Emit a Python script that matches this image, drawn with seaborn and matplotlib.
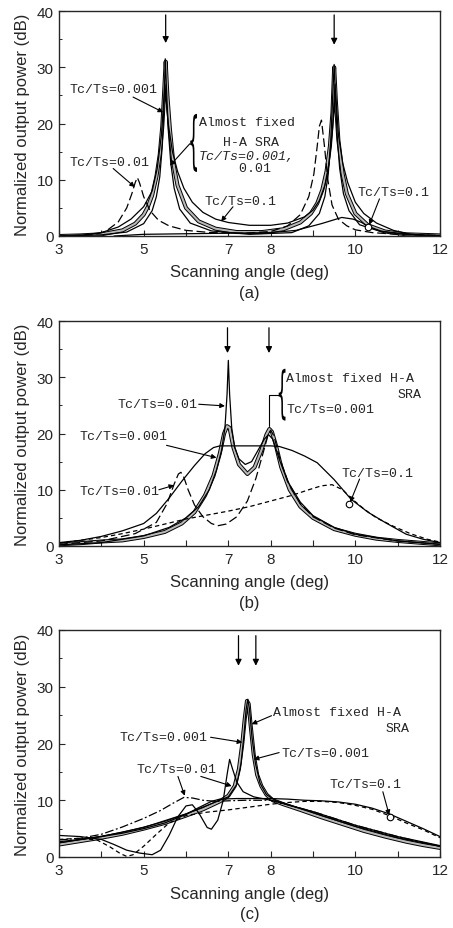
import matplotlib
matplotlib.use("Agg")
import matplotlib.pyplot as plt
import matplotlib.transforms as mtransforms
from matplotlib.textpath import TextPath
from matplotlib.patches import PathPatch
from matplotlib.font_manager import FontProperties
import seaborn as sns

sns.set_style("ticks")
plt.rcParams["font.family"] = ["Liberation Sans", "DejaVu Sans"]
MONO = ["Liberation Mono", "DejaVu Sans Mono"]

# ---------------- panel (a) ----------------
a_x_fixed = [3.0, 3.5, 4.0, 4.5, 4.8, 5.0, 5.1, 5.2, 5.3, 5.38, 5.44, 5.48, 5.52, 5.56, 5.62, 5.7, 5.8, 6.0, 6.3, 6.7,
             7.2, 7.8, 8.3, 8.7, 8.95, 9.1, 9.22, 9.32, 9.4, 9.46, 9.5, 9.54, 9.6, 9.7, 9.8, 10.0, 10.3, 10.7, 11.2, 12.0]
a_y_fixed = [0.0, 0.1, 0.3, 1.0, 2.2, 3.8, 5.2, 7.2, 10.5, 14.5, 19.5, 25.0, 31.0, 25.0, 19.0, 13.0, 9.0, 5.0, 2.6, 1.3,
             0.7, 0.7, 1.2, 2.4, 4.0, 5.8, 8.2, 11.5, 16.0, 22.0, 30.0, 24.0, 17.0, 11.0, 7.5, 4.0, 1.9, 0.8, 0.3, 0.1]

a_x_001 = [3.0, 4.0, 4.6, 5.0, 5.2, 5.3, 5.38, 5.44, 5.48, 5.51, 5.54, 5.58, 5.64, 5.72, 5.85, 6.1, 6.6, 7.5,
           8.5, 8.9, 9.15, 9.28, 9.36, 9.42, 9.46, 9.5, 9.53, 9.57, 9.63, 9.72, 9.85, 10.1, 10.6, 11.5, 12.0]
a_y_001 = [0.0, 0.2, 0.7, 2.2, 4.5, 7.0, 10.5, 16.0, 23.0, 31.5, 26.0, 19.0, 13.0, 8.5, 4.8, 2.3, 0.9, 0.3,
           0.6, 1.8, 4.0, 7.0, 11.0, 17.0, 24.0, 30.5, 25.0, 18.0, 12.0, 7.5, 4.5, 2.0, 0.8, 0.2, 0.1]

a_x_01 = [3.0, 3.8, 4.1, 4.4, 4.6, 4.72, 4.8, 4.85, 4.9, 5.0, 5.15, 5.35, 5.6, 6.0, 6.6, 7.4, 8.0,
          8.4, 8.7, 8.9, 9.02, 9.1, 9.15, 9.2, 9.27, 9.35, 9.45, 9.6, 9.8, 10.0, 10.4, 11.0, 12.0]
a_y_01 = [0.0, 0.2, 0.8, 2.5, 5.0, 7.5, 9.5, 10.4, 9.5, 7.0, 4.5, 2.8, 1.8, 1.0, 0.6, 0.5, 0.8,
          1.8, 3.8, 7.0, 11.0, 16.0, 19.5, 20.6, 16.0, 10.0, 5.5, 3.0, 1.8, 1.1, 0.6, 0.3, 0.1]

a_x_1 = [3.0, 3.6, 4.0, 4.4, 4.7, 5.0, 5.2, 5.32, 5.42, 5.5, 5.58, 5.68, 5.8, 5.95, 6.15, 6.4, 6.7, 7.0, 7.5,
         8.0, 8.4, 8.8, 9.0, 9.15, 9.28, 9.38, 9.46, 9.52, 9.6, 9.7, 9.82, 10.0, 10.2, 10.5, 10.9, 11.3, 12.0]
a_y_1 = [0.0, 0.2, 0.6, 1.6, 3.0, 5.2, 8.0, 12.0, 18.0, 27.0, 20.0, 15.0, 11.5, 8.5, 6.0, 4.2, 3.0, 2.4, 1.9,
         1.9, 2.3, 3.4, 4.6, 6.3, 9.0, 13.0, 19.0, 27.0, 18.0, 13.0, 9.5, 6.0, 4.0, 2.3, 1.0, 0.3, 0.0]

a_x_1b = [4.3, 5.0, 6.0, 7.0, 8.0, 8.6, 9.2, 9.68, 9.95, 10.15, 10.3, 10.6, 11.0, 11.6, 12.0]
a_y_1b = [0.0, 0.3, 0.4, 0.5, 0.6, 1.0, 2.2, 3.3, 3.0, 2.4, 1.7, 0.9, 0.4, 0.1, 0.0]

# ---------------- panel (b) ----------------
b_x_fixed = [3.0, 3.5, 4.0, 4.5, 5.0, 5.5, 5.9, 6.2, 6.45, 6.65, 6.8, 6.9, 6.97, 7.03, 7.12, 7.25, 7.45, 7.62, 7.78,
             7.9, 7.97, 8.03, 8.12, 8.25, 8.45, 8.7, 9.0, 9.5, 10.0, 10.5, 11.0, 11.5, 12.0]
b_y_fixed = [0.3, 0.5, 0.8, 1.0, 1.6, 2.5, 4.0, 6.0, 9.0, 12.5, 16.5, 20.0, 21.3, 21.0, 17.5, 14.5, 12.8, 14.0, 17.0,
             19.8, 20.8, 20.3, 18.0, 14.0, 10.0, 7.0, 5.0, 3.0, 2.0, 1.3, 0.9, 0.6, 0.3]

b_x_01s = [3.0, 4.0, 5.0, 5.6, 6.0, 6.3, 6.55, 6.72, 6.84, 6.92, 6.97, 7.0, 7.03, 7.08, 7.15, 7.25, 7.4, 7.55,
           7.7, 7.85, 7.95, 8.05, 8.2, 8.4, 8.7, 9.0, 9.5, 10.0, 11.0, 12.0]
b_y_01s = [0.2, 0.6, 1.8, 3.3, 5.0, 7.0, 10.0, 13.5, 17.0, 21.0, 27.0, 33.0, 27.0, 21.0, 17.5, 15.5, 14.5, 15.0,
           17.0, 19.0, 19.8, 19.0, 15.5, 11.5, 7.8, 5.4, 3.3, 2.1, 0.9, 0.3]

b_x_bell = [3.0, 3.5, 4.0, 4.5, 5.0, 5.3, 5.6, 5.9, 6.2, 6.45, 6.65, 6.8, 7.2, 7.6, 8.0, 8.2, 8.5, 8.8, 9.1, 9.5,
            9.9, 10.3, 10.7, 11.2, 11.6, 12.0]
b_y_bell = [0.6, 1.0, 1.7, 2.7, 4.0, 5.8, 8.5, 11.5, 14.3, 16.4, 17.5, 17.8, 17.8, 17.8, 17.8, 17.7, 17.0, 16.0, 14.8,
            11.8, 8.3, 6.0, 4.2, 2.1, 1.2, 0.6]

b_x_01d = [3.0, 4.0, 4.8, 5.3, 5.55, 5.72, 5.82, 5.88, 5.95, 6.05, 6.2, 6.4, 6.6, 6.75, 6.95, 7.2, 7.45, 7.65,
           7.82, 7.93, 8.0, 8.08, 8.2, 8.4, 8.7, 9.0, 9.5, 10.0, 11.0, 12.0]
b_y_01d = [0.3, 0.9, 2.2, 4.2, 7.5, 11.0, 12.8, 13.1, 12.2, 10.0, 7.3, 5.2, 4.0, 3.6, 3.9, 5.2, 8.0, 12.0,
           16.5, 19.5, 20.6, 19.5, 16.0, 11.5, 7.5, 5.2, 3.2, 2.0, 0.9, 0.3]

b_x_1d = [3.0, 3.5, 4.0, 4.5, 5.0, 5.5, 6.0, 6.5, 7.0, 7.5, 8.0, 8.5, 8.9, 9.2, 9.45, 9.7, 9.9, 10.2, 10.5,
          10.9, 11.3, 11.7, 12.0]
b_y_1d = [0.5, 1.0, 1.5, 2.2, 3.0, 3.9, 4.8, 5.5, 6.2, 7.0, 8.0, 9.0, 10.0, 10.7, 10.9, 10.0, 8.5, 6.6, 5.0,
          3.5, 2.2, 1.2, 0.7]

# ---------------- panel (c) ----------------
c_x_fixed = [3.0, 3.5, 4.0, 4.5, 5.0, 5.5, 6.0, 6.4, 6.8, 7.0, 7.15, 7.25, 7.33, 7.39, 7.44, 7.48, 7.53, 7.6, 7.68,
             7.78, 7.9, 8.05, 8.3, 8.7, 9.2, 9.7, 10.2, 10.7, 11.2, 11.6, 12.0]
c_y_fixed = [2.2, 2.8, 3.4, 4.1, 5.0, 6.0, 7.3, 8.4, 9.8, 10.8, 12.5, 15.5, 20.0, 24.5, 27.5, 27.0, 23.0, 18.0, 14.5,
             12.5, 11.0, 10.0, 9.3, 8.3, 7.0, 5.8, 4.6, 3.6, 2.7, 2.1, 1.6]

c_x_001 = [3.0, 4.0, 5.0, 6.0, 6.6, 7.0, 7.2, 7.3, 7.37, 7.42, 7.46, 7.5, 7.56, 7.64, 7.75, 7.9, 8.1, 8.5,
           9.0, 10.0, 11.0, 12.0]
c_y_001 = [2.5, 3.6, 5.2, 7.6, 9.4, 10.6, 12.8, 16.5, 21.5, 26.0, 27.8, 26.0, 21.0, 16.5, 13.0, 11.0, 10.0, 9.0,
           7.8, 5.4, 3.4, 1.9]

c_x_1 = [3.0, 3.5, 4.0, 4.5, 5.0, 5.5, 6.0, 6.3, 6.6, 6.8, 7.2, 7.6, 8.0, 8.4, 8.8, 9.2, 9.6, 10.0, 10.4,
         10.8, 11.2, 11.6, 12.0]
c_y_1 = [2.7, 3.1, 3.6, 4.2, 5.0, 6.0, 7.5, 8.7, 9.8, 10.2, 10.3, 10.3, 10.3, 10.2, 10.0, 9.9, 9.7, 9.3, 8.6,
         7.6, 6.3, 5.0, 3.6]

c_x_1d = [3.0, 3.5, 3.9, 4.2, 4.45, 4.6, 4.75, 5.0, 5.3, 5.6, 6.0, 6.5, 7.0, 7.5, 8.0, 8.4, 8.8, 9.2, 9.6,
          10.0, 10.4, 10.8, 11.2, 11.6, 12.0]
c_y_1d = [3.1, 3.3, 3.0, 1.8, 0.6, 0.1, 0.4, 1.9, 4.0, 6.0, 7.3, 7.9, 8.3, 8.8, 9.3, 9.6, 9.8, 9.8, 9.6,
          9.1, 8.4, 7.3, 6.0, 4.8, 3.4]

c_x_01s = [3.0, 3.5, 4.0, 4.3, 4.6, 4.9, 5.2, 5.4, 5.6, 5.8, 6.0, 6.15, 6.3, 6.5, 6.6, 6.75, 6.88, 6.97, 7.03,
           7.1, 7.2, 7.35, 7.6, 8.0, 8.5, 9.0, 9.5, 10.0, 10.5, 11.0, 11.5, 12.0]
c_y_01s = [3.8, 3.6, 3.1, 2.2, 1.2, 0.7, 0.4, 1.2, 3.8, 7.0, 9.0, 9.2, 7.8, 5.2, 4.9, 6.5, 10.0, 14.5, 17.2,
           15.5, 13.2, 11.5, 10.6, 10.0, 9.0, 8.0, 6.8, 5.6, 4.6, 3.6, 2.8, 2.0]

c_x_01d = [3.0, 3.5, 4.0, 4.5, 5.0, 5.4, 5.7, 5.95, 6.15, 6.4, 6.7, 7.0, 7.4, 8.0, 8.5, 9.0, 9.5, 10.0, 10.5,
           11.0, 11.5, 12.0]
c_y_01d = [3.0, 3.3, 4.0, 5.3, 6.8, 8.2, 9.5, 10.5, 10.4, 10.0, 9.8, 9.9, 10.0, 10.0, 9.0, 8.0, 6.8, 5.6, 4.6,
           3.6, 2.7, 1.9]

x_ticks = [3, 4, 5, 6, 7, 8, 9, 10, 11, 12]
x_labels = ["3", "", "5", "", "7", "8", "", "10", "", "12"]
y_ticks = [0, 10, 20, 30, 40]
y_minor = [5, 15, 25, 35]


def curve(ax, xs, ys, kind):
    if kind == "fixed":
        sns.lineplot(x=xs, y=ys, ax=ax, color="black", linewidth=2.9, sort=False, estimator=None)
        sns.lineplot(x=xs, y=ys, ax=ax, color="#b8b8b8", linewidth=1.5, sort=False, estimator=None)
        return
    sns.lineplot(x=xs, y=ys, ax=ax, color="black", linewidth=0.9, sort=False, estimator=None)
    ln = ax.lines[-1]
    if kind == "dash":
        ln.set_dashes([7, 3])
    elif kind == "sdash":
        ln.set_dashes([3.5, 2.5])
    elif kind == "dashdot":
        ln.set_dashes([7, 2, 1.5, 2])


def setup(ax, letter):
    ax.set_xlim(3, 12)
    ax.set_ylim(0, 40)
    ax.set_xticks(x_ticks)
    ax.set_xticklabels(x_labels)
    ax.set_yticks(y_ticks)
    ax.set_yticks(y_minor, minor=True)
    ax.tick_params(which="major", direction="in", length=4, width=0.8, labelsize=11, pad=4)
    ax.tick_params(which="minor", direction="in", length=2.5, width=0.7)
    for s in ax.spines.values():
        s.set_linewidth(1.0)
        s.set_visible(True)
    ax.set_xlabel("")
    ax.set_ylabel("")
    ax.text(0.5, -0.16, "Scanning angle (deg)", transform=ax.transAxes, ha="center", va="center", fontsize=12)
    ax.text(-0.095, 0.5, "Normalized output power (dB)", transform=ax.transAxes, ha="center", va="center",
            rotation=90, fontsize=12)
    ax.text(0.5, -0.25, f"({letter})", transform=ax.transAxes, ha="center", va="center", fontsize=12)


def label(ax, x, y, s, ha="left", style="normal"):
    ax.text(x, y, s, family=MONO, fontsize=9.5, ha=ha, va="center", style=style)


def arrow(ax, xy0, xy1, head=True):
    ax.annotate("", xy=xy1, xytext=xy0,
                arrowprops=dict(arrowstyle="-|>" if head else "-", lw=0.8, color="black",
                                mutation_scale=7, shrinkA=0, shrinkB=0))


def top_arrow(ax, x, y0, y1):
    ax.annotate("", xy=(x, y1), xytext=(x, y0),
                arrowprops=dict(arrowstyle="-|>", lw=0.9, color="black", mutation_scale=9, shrinkA=0, shrinkB=0))


def circle(ax, x, y):
    sns.scatterplot(x=[x], y=[y], ax=ax, marker="o", s=22, facecolor="white", edgecolor="black", linewidth=0.8,
                    zorder=5)


BRACE = TextPath((0, 0), "{", size=1, prop=FontProperties(family="DejaVu Sans"))


def brace(ax, xc, y0, y1, w=0.16):
    ext = BRACE.get_extents()
    t = (mtransforms.Affine2D()
         .translate(-ext.x0, -ext.y0)
         .scale(w / ext.width, (y1 - y0) / ext.height)
         .translate(xc - w / 2, y0)) + ax.transData
    ax.add_patch(PathPatch(BRACE, transform=t, facecolor="black", edgecolor="none"))


fig = plt.figure(figsize=(4.53, 9.29), dpi=100)
W, H = 453, 929
left, width = 59 / W, 381 / W
ax_a = fig.add_axes([left, 1 - 237 / H, width, 225 / H])
ax_b = fig.add_axes([left, 1 - 547 / H, width, 225 / H])
ax_c = fig.add_axes([left, 1 - 858 / H, width, 227 / H])

# ---- (a)
ax = ax_a
curve(ax, a_x_fixed, a_y_fixed, "fixed")
curve(ax, a_x_001, a_y_001, "solid")
curve(ax, a_x_01, a_y_01, "dash")
curve(ax, a_x_1, a_y_1, "solid")
curve(ax, a_x_1b, a_y_1b, "solid")
setup(ax, "a")
top_arrow(ax, 5.52, 39.3, 34.3)
top_arrow(ax, 9.5, 39.3, 34.0)
label(ax, 3.25, 26.2, "Tc/Ts=0.001")
arrow(ax, (4.75, 24.7), (5.46, 22.0))
label(ax, 3.25, 13.1, "Tc/Ts=0.01")
arrow(ax, (4.28, 12.0), (4.79, 8.7))
label(ax, 6.30, 20.2, "Almost fixed")
label(ax, 6.30, 16.7, "   H-A SRA")
label(ax, 6.30, 14.3, "Tc/Ts=0.001,", style="italic")
label(ax, 6.30, 12.0, "     0.01")
brace(ax, 6.18, 11.4, 21.7)
arrow(ax, (6.09, 16.4), (5.62, 12.5))
label(ax, 6.44, 6.3, "Tc/Ts=0.1")
arrow(ax, (7.11, 5.2), (6.83, 2.6))
label(ax, 10.06, 7.8, "Tc/Ts=0.1")
arrow(ax, (10.57, 6.6), (10.33, 2.0))
circle(ax, 10.3, 1.6)

# ---- (b)
ax = ax_b
curve(ax, b_x_fixed, b_y_fixed, "fixed")
curve(ax, b_x_01s, b_y_01s, "solid")
curve(ax, b_x_bell, b_y_bell, "solid")
curve(ax, b_x_01d, b_y_01d, "dash")
curve(ax, b_x_1d, b_y_1d, "sdash")
setup(ax, "b")
top_arrow(ax, 6.98, 38.8, 34.3)
top_arrow(ax, 7.96, 38.8, 34.3)
label(ax, 4.39, 25.2, "Tc/Ts=0.01")
arrow(ax, (6.3, 25.2), (6.92, 24.9))
label(ax, 8.37, 29.9, "Almost fixed H-A")
label(ax, 11.56, 27.0, "SRA", ha="right")
label(ax, 8.37, 24.3, "Tc/Ts=0.001")
brace(ax, 8.27, 22.3, 31.5)
ax.annotate("", xy=(7.96, 21.3), xytext=(8.19, 26.9),
            arrowprops=dict(arrowstyle="-", lw=0.8, color="black", shrinkA=0, shrinkB=0,
                            connectionstyle="angle,angleA=0,angleB=90,rad=0"))
label(ax, 3.49, 19.6, "Tc/Ts=0.001")
arrow(ax, (5.54, 17.9), (6.72, 15.7))
label(ax, 3.49, 9.8, "Tc/Ts=0.01")
arrow(ax, (5.36, 10.0), (5.72, 10.8))
label(ax, 9.67, 13.0, "Tc/Ts=0.1")
arrow(ax, (10.1, 11.9), (9.88, 7.8))
circle(ax, 9.85, 7.4)

# ---- (c)
ax = ax_c
curve(ax, c_x_fixed, c_y_fixed, "fixed")
curve(ax, c_x_001, c_y_001, "solid")
curve(ax, c_x_1, c_y_1, "solid")
curve(ax, c_x_1d, c_y_1d, "sdash")
curve(ax, c_x_01s, c_y_01s, "solid")
curve(ax, c_x_01d, c_y_01d, "dashdot")
setup(ax, "c")
top_arrow(ax, 7.24, 39.0, 33.7)
top_arrow(ax, 7.65, 39.0, 33.7)
label(ax, 8.06, 25.5, "Almost fixed H-A")
label(ax, 11.28, 22.8, "SRA", ha="right")
arrow(ax, (8.02, 24.9), (7.55, 23.4))
label(ax, 4.43, 21.1, "Tc/Ts=0.001")
arrow(ax, (6.58, 21.1), (7.33, 20.2))
label(ax, 8.25, 18.4, "Tc/Ts=0.001")
arrow(ax, (8.2, 18.4), (7.6, 17.2))
label(ax, 4.83, 15.5, "Tc/Ts=0.01")
arrow(ax, (5.81, 14.2), (5.97, 10.8))
arrow(ax, (6.35, 14.2), (7.08, 12.5))
label(ax, 9.39, 12.8, "Tc/Ts=0.1")
arrow(ax, (10.65, 11.5), (10.8, 7.4))
circle(ax, 10.83, 7.0)

fig.savefig("out.png", dpi=100)
